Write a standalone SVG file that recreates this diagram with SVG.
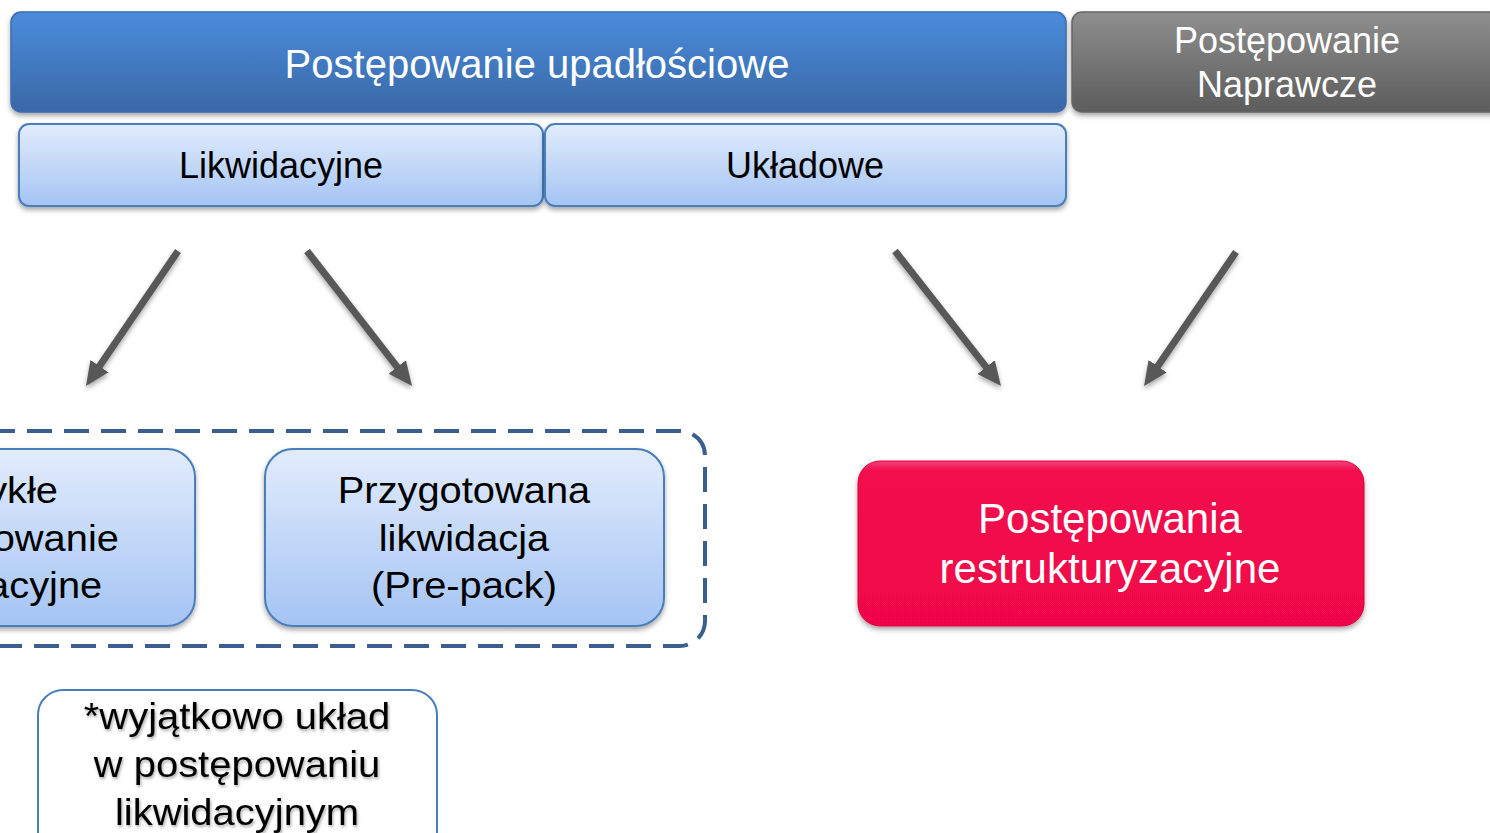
<svg xmlns="http://www.w3.org/2000/svg" width="1490" height="833" viewBox="0 0 1490 833">
  <defs>
    <linearGradient id="gBlue" x1="0" y1="0" x2="0" y2="1">
      <stop offset="0" stop-color="#4a8cdc"/>
      <stop offset="1" stop-color="#3a68a6"/>
    </linearGradient>
    <linearGradient id="gGray" x1="0" y1="0" x2="0" y2="1">
      <stop offset="0" stop-color="#8e8e8e"/>
      <stop offset="1" stop-color="#5c5c5c"/>
    </linearGradient>
    <linearGradient id="gLight" x1="0" y1="0" x2="0" y2="1">
      <stop offset="0" stop-color="#e2ecfc"/>
      <stop offset="1" stop-color="#a4c4f4"/>
    </linearGradient>
    <linearGradient id="gRed" x1="0" y1="0" x2="0" y2="1">
      <stop offset="0" stop-color="#f4407a"/>
      <stop offset="0.06" stop-color="#f20a4c"/>
      <stop offset="1" stop-color="#ef0649"/>
    </linearGradient>
    <filter id="shadow" x="-10%" y="-20%" width="120%" height="150%">
      <feDropShadow dx="0" dy="3" stdDeviation="2.5" flood-color="#000" flood-opacity="0.35"/>
    </filter>
    <filter id="tshadow" x="-10%" y="-20%" width="120%" height="150%">
      <feDropShadow dx="1" dy="2" stdDeviation="1.5" flood-color="#000" flood-opacity="0.35"/>
    </filter>
    <marker id="ah" markerUnits="userSpaceOnUse" markerWidth="30" markerHeight="30" viewBox="0 -15 30 30" refX="2" refY="0" orient="auto">
      <path d="M0,-11 L24,0 L0,11 z" fill="#595959"/>
    </marker>
    <style>
      text { font-family: "Liberation Sans", Arial, sans-serif; text-anchor: middle; }
      .white { fill: #ffffff; }
      .black { fill: #000000; }
      .light { fill: url(#gLight); stroke: #4a7ebb; stroke-width: 2; }
      .conn { stroke: #595959; stroke-width: 7; fill: none; marker-end: url(#ah); }
    </style>
  </defs>

  <g id="upadlosciowe">
    <rect x="11" y="12" width="1055" height="100" rx="10" fill="url(#gBlue)" stroke="#3c6bb0" stroke-width="1.5" filter="url(#shadow)"/>
    <text x="537" y="78" font-size="40" class="white">Postępowanie upadłościowe</text>
  </g>

  <g id="naprawcze">
    <rect x="1072" y="12" width="430" height="100" rx="10" fill="url(#gGray)" stroke="#666" stroke-width="1.5" filter="url(#shadow)"/>
    <text x="1287" y="53" font-size="36" class="white">Postępowanie</text>
    <text x="1287" y="97" font-size="36" class="white">Naprawcze</text>
  </g>

  <g id="likwidacyjne">
    <rect x="19" y="124" width="524" height="82" rx="10" class="light" filter="url(#shadow)"/>
    <text x="281" y="178" font-size="36" class="black">Likwidacyjne</text>
  </g>

  <g id="ukladowe">
    <rect x="545" y="124" width="521" height="82" rx="10" class="light" filter="url(#shadow)"/>
    <text x="805" y="178" font-size="36" class="black">Układowe</text>
  </g>

  <g id="grupa-likwidacyjna">
    <path d="M -10,431 H 680 A 25 25 0 0 1 705 456 V 621 A 25 25 0 0 1 680 646 H -10" fill="none" stroke="#3b5e8f" stroke-width="4" stroke-dasharray="25 12"/>
  </g>

  <g id="zwykle">
    <rect x="-190" y="449" width="385" height="177" rx="28" class="light" filter="url(#shadow)"/>
    <g transform="translate(-4 0) scale(1.077 1)">
      <text x="0" y="503" font-size="37" class="black">Zwykłe</text>
      <text x="0" y="551" font-size="37" class="black">postępowanie</text>
      <text x="0" y="598" font-size="37" class="black">likwidacyjne</text>
    </g>
  </g>

  <g id="prepack">
    <rect x="265" y="449" width="399" height="177" rx="28" class="light" filter="url(#shadow)"/>
    <g transform="translate(464 0) scale(1.077 1)">
      <text x="0" y="503" font-size="37" class="black">Przygotowana</text>
      <text x="0" y="551" font-size="37" class="black">likwidacja</text>
      <text x="0" y="598" font-size="37" class="black">(Pre-pack)</text>
    </g>
  </g>

  <g id="restrukturyzacyjne">
    <rect x="858" y="461" width="506" height="165" rx="22" fill="url(#gRed)" stroke="#e0003f" stroke-width="1" filter="url(#shadow)"/>
    <text x="1110" y="533" font-size="42" class="white">Postępowania</text>
    <text x="1110" y="583" font-size="42" class="white">restrukturyzacyjne</text>
  </g>

  <g id="uwaga">
    <rect x="38" y="690" width="399" height="170" rx="25" fill="#ffffff" stroke="#4a7ebb" stroke-width="2"/>
    <g filter="url(#tshadow)" transform="translate(237 0) scale(1.08 1)">
      <text x="0" y="729" font-size="37" class="black">*wyjątkowo układ</text>
      <text x="0" y="777" font-size="37" class="black">w postępowaniu</text>
      <text x="0" y="825" font-size="37" class="black">likwidacyjnym</text>
    </g>
  </g>

  <g id="connectors" filter="url(#shadow)">
    <line x1="178" y1="251" x2="98.4" y2="367.8" class="conn"/>
    <line x1="307" y1="251" x2="398.5" y2="368.6" class="conn"/>
    <line x1="895" y1="251" x2="987.4" y2="368.7" class="conn"/>
    <line x1="1236" y1="252" x2="1156.5" y2="367.9" class="conn"/>
  </g>
</svg>
